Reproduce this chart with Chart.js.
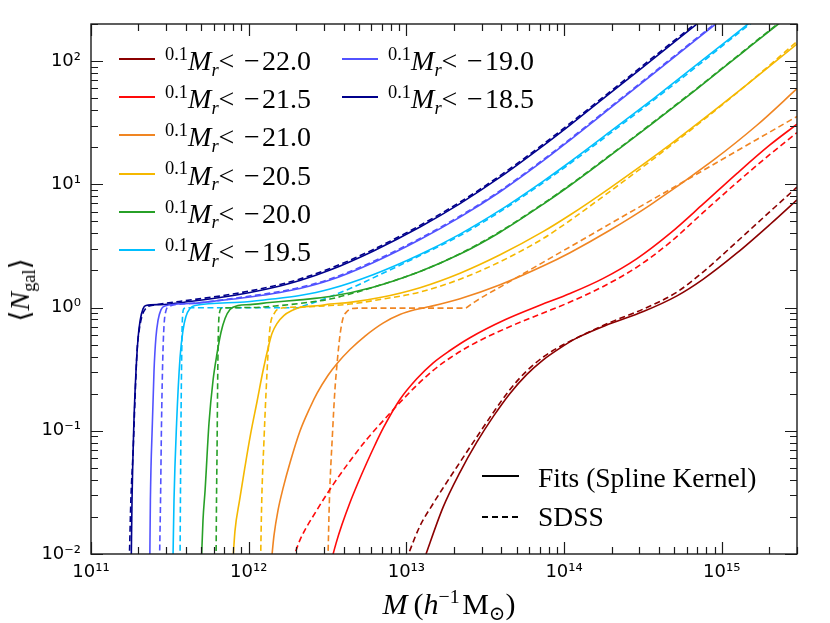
<!DOCTYPE html>
<html>
<head>
<meta charset="utf-8">
<script src="https://cdn.jsdelivr.net/npm/chart.js@4.4.1/dist/chart.umd.min.js"></script>
<style>
html, body { margin: 0; padding: 0; background: #fff; }
#wrap { position: relative; width: 830px; height: 623px; overflow: hidden; }
#chart { position: absolute; left: 0; top: 0; }
.tx { position: absolute; font-family: 'Liberation Serif', 'DejaVu Serif', serif; color: #000; white-space: nowrap; line-height: 1; }
.tx sup, .tx sub { font-size: 0.66em; position: relative; vertical-align: baseline; line-height: 0; }
.tx sup { top: -0.55em; }
.tx sub { top: 0.3em; }
.tx .gap { display: inline-block; width: 0.34em; }
.smp { position: absolute; height: 2px; }
#ytitle { font-size: 28px; left: 20px; top: 290px; transform: translate(-50%, -50%) rotate(-90deg); }
#xtitle { font-size: 30px; left: 449px; top: 604px; transform: translate(-50%, -50%); }
</style>
</head>
<body>
<div id="wrap">
  <canvas id="chart" width="830" height="623"></canvas>
  <div id="ytitle" class="tx">⟨<i>N</i><sub>gal</sub>⟩</div>
  <div id="xtitle" class="tx"><i>M</i>&#8201;(<i>h</i><sup>−1</sup>&#8202;M<sub>⊙</sub>)</div>
</div>
<script>
// magnitude thresholds (legend order)
var thresholds = ['−22.0', '−21.5', '−21.0', '−20.5', '−20.0', '−19.5', '−19.0', '−18.5'];

// axis decades + labels
var xDecades = [1e11, 1e12, 1e13, 1e14, 1e15];
var xTickLabels = ['10¹¹', '10¹²', '10¹³', '10¹⁴', '10¹⁵'];
var yDecades = [0.01, 0.1, 1, 10, 100];
var yTickLabels = ['10⁻²', '10⁻¹', '10⁰', '10¹', '10²'];

// Mr < -22.0
var fit220M = [1.29e13, 1.71e13, 2.19e13, 2.79e13, 3.56e13, 4.54e13, 5.79e13, 7.38e13, 9.42e13, 1.20e14, 1.95e14, 3.18e14, 5.20e14, 7.60e14, 1.25e15, 2.02e15, 3.0e15];
var fit220N = [0.0089, 0.024, 0.0462, 0.0804, 0.1308, 0.201, 0.2856, 0.3764, 0.4686, 0.5648, 0.7377, 0.9281, 1.244, 1.693, 2.772, 4.72, 7.486];
var sdss220M = [1.00e13, 1.05e13, 1.22e13, 1.48e13, 1.71e13, 2.08e13, 2.79e13, 3.56e13, 4.54e13, 5.79e13, 7.38e13, 9.42e13, 1.20e14, 1.95e14, 3.18e14, 5.20e14, 7.60e14, 1.25e15, 2.02e15, 3.0e15];
var sdss220N = [0.0089, 0.0106, 0.0169, 0.0257, 0.0344, 0.0504, 0.0887, 0.1408, 0.2163, 0.3055, 0.3968, 0.4828, 0.5657, 0.7558, 0.9723, 1.336, 1.941, 3.43, 6.005, 9.49];

// Mr < -21.5
var fit215M = [3.35e12, 3.58e12, 3.91e12, 4.39e12, 4.93e12, 5.60e12, 6.32e12, 7.14e12, 9.10e12, 1.16e13, 1.48e13, 1.89e13, 2.53e13, 4.22e13, 7.03e13, 1.09e14, 1.76e14, 2.90e14, 4.70e14, 7.60e14, 1.25e15, 2.02e15, 3.0e15];
var fit215N = [0.0089, 0.0122, 0.0174, 0.0262, 0.0377, 0.0548, 0.0767, 0.1054, 0.1794, 0.263, 0.356, 0.448, 0.569, 0.796, 1.044, 1.299, 1.716, 2.497, 3.998, 6.897, 12.28, 20.87, 30.77];
var sdss215M = [1.90e12, 2.11e12, 2.70e12, 3.44e12, 4.39e12, 5.60e12, 7.14e12, 9.10e12, 1.16e13, 1.48e13, 1.89e13, 2.53e13, 4.22e13, 7.03e13, 1.09e14, 1.76e14, 2.90e14, 4.70e14, 7.60e14, 1.25e15, 2.02e15, 3.0e15];
var sdss215N = [0.0089, 0.0129, 0.0226, 0.0367, 0.0569, 0.085, 0.121, 0.1696, 0.233, 0.3094, 0.3895, 0.490, 0.673, 0.8825, 1.108, 1.477, 2.13, 3.38, 5.885, 10.38, 17.48, 26.27];

// Mr < -21.0
var fit210M = [1.395e12, 1.447e12, 1.534e12, 1.657e12, 1.83e12, 2.11e12, 2.45e12, 2.71e12, 3.18e12, 3.68e12, 4.39e12, 5.47e12, 7.11e12, 9.10e12, 1.13e13, 1.41e13, 2.19e13, 3.93e13, 7.35e13, 1.09e14, 1.95e14, 3.51e14, 8.80e14, 1.67e15, 3.0e15];
var fit210N = [0.0089, 0.01415, 0.0226, 0.0347, 0.0553, 0.0987, 0.1545, 0.201, 0.2808, 0.358, 0.4563, 0.5873, 0.7484, 0.8772, 0.9579, 1.019, 1.179, 1.531, 2.171, 2.788, 4.236, 6.782, 15.62, 30.15, 59.7];
var sdss210M = [3.18e12, 3.25e12, 3.40e12, 3.52e12, 3.65e12, 3.79e12, 3.96e12, 4.20e12, 4.52e12, 5.08e12, 2.35e13, 2.61e13, 3.15e13, 3.93e13, 7.03e13, 1.09e14, 1.95e14, 3.51e14, 8.80e14, 1.67e15, 3.0e15];
var sdss210N = [0.0089, 0.0272, 0.0951, 0.212, 0.372, 0.593, 0.814, 0.928, 0.981, 0.99, 0.99, 1.078, 1.251, 1.466, 2.253, 3.107, 4.772, 7.335, 14.42, 23.13, 35.53];

// Mr < -20.5
var fit205M = [7.95e11, 8.18e11, 8.75e11, 9.48e11, 1.03e12, 1.13e12, 1.23e12, 1.33e12, 1.405e12, 1.51e12, 1.67e12, 1.88e12, 2.11e12, 2.83e12, 3.28e12, 4.39e12, 6.81e12, 1.22e13, 2.19e13, 3.93e13, 7.35e13, 1.09e14, 1.95e14, 4.70e14, 1.36e15, 3.0e15];
var fit205N = [0.0089, 0.01526, 0.0272, 0.0513, 0.0951, 0.1729, 0.3027, 0.4739, 0.6153, 0.7415, 0.8612, 0.946, 1.0, 1.038, 1.067, 1.102, 1.205, 1.45, 1.90, 2.68, 4.13, 5.64, 9.33, 21.0, 60.5, 137.6];
var sdss205M = [1.19e12, 1.21e12, 1.25e12, 1.29e12, 1.33e12, 1.37e12, 1.45e12, 1.56e12, 2.11e12, 3.28e12, 4.39e12, 6.81e12, 1.22e13, 2.19e13, 3.93e13, 7.35e13, 1.09e14, 1.95e14, 4.70e14, 1.36e15, 3.0e15];
var sdss205N = [0.0089, 0.0272, 0.0834, 0.212, 0.448, 0.715, 0.894, 0.981, 1.009, 1.038, 1.067, 1.163, 1.336, 1.70, 2.353, 3.627, 5.088, 8.74, 20.4, 60.5, 144.2];

// Mr < -20.0
var fit200M = [5.02e11, 5.13e11, 5.29e11, 5.60e11, 5.94e11, 6.30e11, 6.67e11, 7.08e11, 7.61e11, 8.55e11, 1.02e12, 1.36e12, 2.11e12, 3.28e12, 6.14e12, 1.22e13, 2.19e13, 3.93e13, 7.35e13, 1.09e14, 1.95e14, 3.66e14, 6.97e14, 1.36e15, 2.11e15, 2.71e15];
var fit200N = [0.0089, 0.0187, 0.0328, 0.115, 0.256, 0.424, 0.627, 0.814, 0.963, 1.038, 1.057, 1.098, 1.155, 1.228, 1.463, 1.963, 2.716, 4.088, 6.88, 9.78, 17.0, 31.4, 59.5, 117.9, 184.5, 236.5];
var sdss200M = [6.21e11, 6.25e11, 6.30e11, 6.34e11, 6.39e11, 6.44e11, 6.53e11, 6.77e11, 1.02e12, 1.58e12, 2.21e12, 3.28e12, 4.39e12, 6.81e12, 1.22e13, 2.19e13, 3.93e13, 7.35e13, 1.09e14, 1.95e14, 3.66e14, 6.97e14, 1.36e15, 2.11e15, 2.71e15];
var sdss200N = [0.0089, 0.0272, 0.0692, 0.176, 0.448, 0.715, 0.911, 0.99, 1.0, 1.038, 1.088, 1.172, 1.287, 1.522, 1.96, 2.74, 4.14, 6.96, 9.9, 17.2, 31.8, 60.2, 119.3, 186.7, 239];

// Mr < -19.5
var fit195M = [3.31e11, 3.36e11, 3.49e11, 3.67e11, 3.83e11, 4.00e11, 4.24e11, 4.56e11, 8.81e11, 1.36e12, 2.11e12, 3.28e12, 6.14e12, 1.22e13, 2.19e13, 3.93e13, 7.35e13, 1.09e14, 1.95e14, 3.66e14, 6.97e14, 1.36e15, 1.88e15];
var fit195N = [0.0089, 0.0272, 0.115, 0.393, 0.651, 0.846, 0.981, 1.038, 1.104, 1.166, 1.251, 1.413, 1.848, 2.696, 3.946, 6.166, 10.58, 15.17, 26.6, 49.2, 94.0, 185.2, 257.3];
var sdss195M = [3.67e11, 3.69e11, 3.72e11, 3.75e11, 3.78e11, 3.81e11, 3.89e11, 4.06e11, 2.02e12, 2.27e12, 2.83e12, 4.39e12, 6.81e12, 1.22e13, 2.19e13, 3.93e13, 7.35e13, 1.09e14, 1.95e14, 3.66e14, 6.97e14, 1.36e15, 1.96e15];
var sdss195N = [0.0089, 0.0272, 0.115, 0.308, 0.651, 0.861, 0.981, 0.995, 0.995, 1.038, 1.14, 1.426, 1.851, 2.64, 3.84, 6.0, 10.28, 14.72, 25.8, 47.7, 90.9, 179.8, 258.7];

// Mr < -19.0
var fit190M = [2.36e11, 2.38e11, 2.45e11, 2.51e11, 2.58e11, 2.66e11, 2.78e11, 2.94e11, 4.24e11, 6.58e11, 1.02e12, 1.58e12, 2.11e12, 3.28e12, 6.14e12, 1.22e13, 2.19e13, 3.93e13, 7.35e13, 1.09e14, 1.95e14, 3.66e14, 6.97e14, 9.75e14, 1.305e15];
var fit190N = [0.0089, 0.0272, 0.115, 0.308, 0.571, 0.785, 0.963, 1.03, 1.078, 1.14, 1.219, 1.326, 1.426, 1.671, 2.313, 3.567, 5.42, 8.71, 15.5, 22.87, 41.3, 78.4, 151.4, 213.5, 287.8];
var sdss190M = [2.72e11, 2.76e11, 2.80e11, 2.84e11, 2.88e11, 2.92e11, 2.99e11, 3.12e11, 4.24e11, 1.02e12, 1.58e12, 2.11e12, 3.28e12, 6.14e12, 1.22e13, 2.19e13, 3.93e13, 7.35e13, 1.09e14, 1.95e14, 3.66e14, 6.97e14, 9.75e14, 1.305e15];
var sdss190N = [0.0089, 0.0272, 0.115, 0.308, 0.571, 0.785, 0.946, 1.02, 1.078, 1.24, 1.35, 1.455, 1.705, 2.36, 3.64, 5.53, 8.88, 15.8, 23.3, 42.1, 80, 154.4, 217.8, 293.6];

// Mr < -18.5
var fit185M = [1.80e11, 1.82e11, 1.87e11, 1.93e11, 1.99e11, 2.05e11, 2.14e11, 2.23e11, 2.74e11, 4.24e11, 6.58e11, 1.02e12, 1.58e12, 2.11e12, 3.28e12, 6.14e12, 1.22e13, 2.19e13, 3.93e13, 7.35e13, 1.09e14, 1.95e14, 3.66e14, 6.97e14, 9.75e14];
var fit185N = [0.0089, 0.0272, 0.115, 0.308, 0.571, 0.785, 0.98, 1.04, 1.057, 1.118, 1.205, 1.326, 1.497, 1.656, 2.015, 2.867, 4.505, 6.975, 11.42, 20.52, 30.27, 54.6, 103.8, 200.3, 282.5];
var sdss185M = [1.75e11, 1.79e11, 1.85e11, 1.90e11, 1.96e11, 2.02e11, 2.11e11, 2.20e11, 2.30e11, 2.55e11, 4.24e11, 6.58e11, 1.02e12, 1.58e12, 2.11e12, 3.28e12, 6.14e12, 1.22e13, 2.19e13, 3.93e13, 7.35e13, 1.09e14, 1.95e14, 3.66e14, 6.97e14, 9.75e14];
var sdss185N = [0.0089, 0.0272, 0.069, 0.176, 0.448, 0.651, 0.861, 0.963, 1.02, 1.05, 1.15, 1.24, 1.365, 1.54, 1.705, 2.075, 2.95, 4.64, 7.18, 11.76, 21.1, 31.2, 56.2, 107, 206, 291];

var lineColors = ['#8b0000', '#ff0a0a', '#f08522', '#f5b800', '#27a027', '#00bfff', '#5252ff', '#00008b'];

var fitSeries = [[fit220M, fit220N], [fit215M, fit215N], [fit210M, fit210N], [fit205M, fit205N],
                 [fit200M, fit200N], [fit195M, fit195N], [fit190M, fit190N], [fit185M, fit185N]];
var sdssSeries = [[sdss220M, sdss220N], [sdss215M, sdss215N], [sdss210M, sdss210N], [sdss205M, sdss205N],
                  [sdss200M, sdss200N], [sdss195M, sdss195N], [sdss190M, sdss190N], [sdss185M, sdss185N]];

function toPoints(pair) {
  return pair[0].map(function(m, i) { return { x: m, y: pair[1][i] }; });
}

var datasets = [];
for (var i = 0; i < thresholds.length; i++) {
  datasets.push({
    label: 'Fit ' + thresholds[i],
    data: toPoints(fitSeries[i]),
    borderColor: lineColors[i],
    borderWidth: 1.6
  });
  datasets.push({
    label: 'SDSS ' + thresholds[i],
    data: toPoints(sdssSeries[i]),
    borderColor: lineColors[i],
    borderWidth: 1.6,
    borderDash: [6, 3.5]
  });
}

// 1..9 x 10^n ticks, powers of ten flagged major
function logTicks(min, max) {
  var out = [];
  for (var e = Math.floor(Math.log10(min)); e <= Math.ceil(Math.log10(max)); e++) {
    for (var m = 1; m <= 9; m++) {
      var v = m * Math.pow(10, e);
      if (v >= min * 0.999 && v <= max * 1.001) out.push({ value: v, major: m === 1 });
    }
  }
  return out;
}

function decadeLabel(v, decades, labels) {
  for (var k = 0; k < decades.length; k++) {
    if (Math.abs(Math.log10(v) - Math.log10(decades[k])) < 1e-6) return labels[k];
  }
  return '';
}

// inward ticks on all four sides + frame
var frameTicks = {
  id: 'frameTicks',
  afterDraw: function(chart) {
    var ctx = chart.ctx, a = chart.chartArea, xs = chart.scales.x, ys = chart.scales.y;
    ctx.save();
    ctx.strokeStyle = '#1a1a1a';
    ctx.lineWidth = 1.2;
    ctx.beginPath();
    xs.ticks.forEach(function(t) {
      var px = Math.round(xs.getPixelForValue(t.value)) + 0.5;
      var len = t.major ? 12 : 7;
      ctx.moveTo(px, a.bottom); ctx.lineTo(px, a.bottom - len);
      ctx.moveTo(px, a.top); ctx.lineTo(px, a.top + len);
    });
    ys.ticks.forEach(function(t) {
      var py = Math.round(ys.getPixelForValue(t.value)) + 0.5;
      var len = t.major ? 12 : 7;
      ctx.moveTo(a.left, py); ctx.lineTo(a.left + len, py);
      ctx.moveTo(a.right, py); ctx.lineTo(a.right - len, py);
    });
    ctx.stroke();
    ctx.lineWidth = 1.4;
    ctx.strokeRect(a.left, a.top, a.right - a.left, a.bottom - a.top);
    ctx.restore();
  }
};

var chart = new Chart(document.getElementById('chart').getContext('2d'), {
  type: 'line',
  data: { datasets: datasets },
  options: {
    responsive: false,
    animation: false,
    events: [],
    layout: { padding: { top: 24, right: 33, left: 0, bottom: 0 } },
    elements: {
      point: { radius: 0 },
      line: { cubicInterpolationMode: 'monotone', fill: false }
    },
    plugins: { legend: { display: false }, tooltip: { enabled: false } },
    scales: {
      x: {
        type: 'logarithmic',
        min: 1e11,
        max: 3e15,
        grid: { display: false, drawTicks: false },
        border: { display: false },
        afterBuildTicks: function(s) { s.ticks = logTicks(s.min, s.max); },
        afterFit: function(s) { s.height = 69; },
        ticks: {
          autoSkip: false,
          maxRotation: 0,
          padding: 8,
          color: '#000',
          font: { family: 'DejaVu Sans', size: 18 },
          callback: function(v) { return decadeLabel(v, xDecades, xTickLabels); }
        }
      },
      y: {
        type: 'logarithmic',
        min: 0.01,
        max: 200,
        grid: { display: false, drawTicks: false },
        border: { display: false },
        afterBuildTicks: function(s) { s.ticks = logTicks(s.min, s.max); },
        afterFit: function(s) { s.width = 91; },
        ticks: {
          autoSkip: false,
          padding: 10,
          color: '#000',
          font: { family: 'DejaVu Sans', size: 18 },
          callback: function(v) { return decadeLabel(v, yDecades, yTickLabels); }
        }
      }
    }
  },
  plugins: [frameTicks]
});

// legends (html text, sample lines)
var wrap = document.getElementById('wrap');
function addSample(x1, x2, y, color, dashed) {
  var d = document.createElement('div');
  d.className = 'smp';
  d.style.left = x1 + 'px';
  d.style.top = (y - 1) + 'px';
  d.style.width = (x2 - x1) + 'px';
  d.style.background = dashed
    ? 'repeating-linear-gradient(90deg,' + color + ' 0 6px, transparent 6px 10px)'
    : color;
  wrap.appendChild(d);
}
function addText(x, y, html, size) {
  var d = document.createElement('div');
  d.className = 'tx';
  d.style.left = x + 'px';
  d.style.top = y + 'px';
  d.style.fontSize = size + 'px';
  d.style.transform = 'translateY(-50%)';
  d.innerHTML = html;
  wrap.appendChild(d);
}

for (var k = 0; k < thresholds.length; k++) {
  var col = Math.floor(k / 6), row = k % 6;
  var ly = 59 + row * 38.2;
  var lx = col === 0 ? 119 : 342;
  addSample(lx, lx + 36, ly, lineColors[k], false);
  addText(lx + 46, ly + 2,
    '<sup>0.1</sup><i>M</i><sub><i>r</i></sub>&lt;<span class="gap"></span>' + thresholds[k].replace('−', '−&#8202;'), 28);
}
addSample(482, 519, 476, '#000', false);
addText(538, 478, 'Fits (Spline Kernel)', 27.5);
addSample(482, 519, 517, '#000', true);
addText(538, 517, 'SDSS', 27.5);
</script>
</body>
</html>
